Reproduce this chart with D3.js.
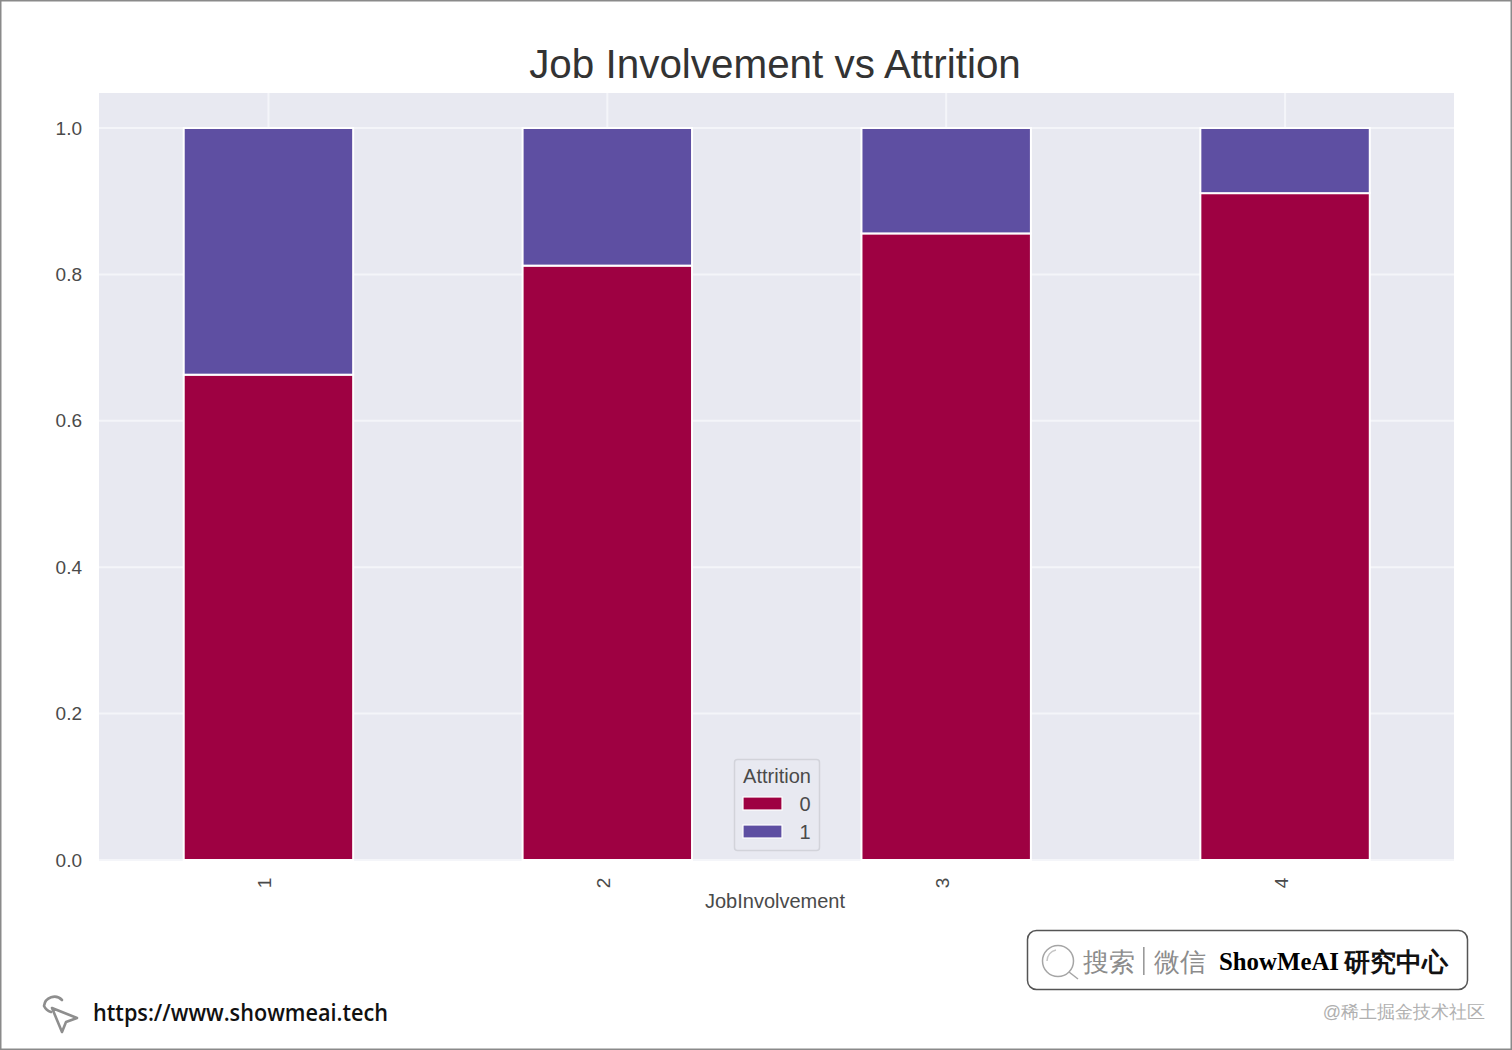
<!DOCTYPE html>
<html>
<head>
<meta charset="utf-8">
<script src="https://d3js.org/d3.v7.min.js"></script>
<style>
html,body{margin:0;padding:0;background:#fff;overflow:hidden}
svg{display:block}
text{font-family:"Liberation Sans",Arial,sans-serif}
</style>
</head>
<body>
<svg id="c" width="1512" height="1050"></svg>
<script>
const categories = ["1","2","3","4"];
const seriesNames = ["0","1"];
const attrition0 = [0.663,0.812,0.856,0.911];
const attrition1 = [0.337,0.188,0.144,0.089];
const yTicks = [0,0.2,0.4,0.6,0.8,1.0];
const seriesColors = ["#9e0142","#5e4fa2"];

const svg = d3.select("#c");
svg.append("rect").attr("x",0.75).attr("y",0.75).attr("width",1510.5).attr("height",1048.5)
  .attr("fill","#fff").attr("stroke","#8a8a8a").attr("stroke-width",1.5);

const L=99,R=1454,T=93,B=860;
const x = d3.scaleBand().domain(categories).range([L,1454.5]).paddingInner(0.5).paddingOuter(0.25);
const y = d3.scaleLinear().domain([0,1]).range([B,128]);

svg.append("rect").attr("x",L).attr("y",T).attr("width",R-L).attr("height",B-T).attr("fill","#e8e9f1");

const grid = svg.append("g");
yTicks.forEach(t=>grid.append("line").attr("x1",L).attr("x2",R).attr("y1",y(t)).attr("y2",y(t))
  .attr("stroke","#f4f5f9").attr("stroke-width",2));
categories.forEach(c=>{const cx=x(c)+x.bandwidth()/2;
  grid.append("line").attr("x1",cx).attr("x2",cx).attr("y1",T).attr("y2",B).attr("stroke","#f4f5f9").attr("stroke-width",2);});

const rows = categories.map((c,i)=>({cat:c,"0":attrition0[i],"1":attrition1[i]}));
const stacked = d3.stack().keys(seriesNames)(rows);
svg.append("g").selectAll("g").data(stacked).join("g").attr("fill",(d,i)=>seriesColors[i])
  .selectAll("rect").data(d=>d).join("rect")
  .attr("x",d=>x(d.data.cat)).attr("width",x.bandwidth())
  .attr("y",d=>y(Math.min(d[1],1))).attr("height",d=>y(d[0])-y(Math.min(d[1],1)))
  .attr("stroke","#fff").attr("stroke-width",2);

// Axes
const yAxis = svg.append("g").attr("transform",`translate(${L},0)`)
  .call(d3.axisLeft(y).tickValues(yTicks).tickFormat(d3.format(".1f")).tickSize(0).tickPadding(17));
yAxis.select(".domain").remove();
yAxis.selectAll("text").attr("font-size",19).attr("fill","#4a4a4a").attr("font-family","'Liberation Sans',Arial,sans-serif");

const xAxis = svg.append("g").attr("transform",`translate(0,${B})`)
  .call(d3.axisBottom(x).tickSize(0).tickFormat(d=>""));
xAxis.select(".domain").remove();
xAxis.selectAll(".tick").append("text")
  .attr("transform","translate(0,23) rotate(-90)")
  .attr("text-anchor","middle")
  .attr("x",0).attr("y",3)
  .attr("font-size",19).attr("fill","#4a4a4a").text(d=>d);

svg.append("text").attr("x",775).attr("y",78).attr("text-anchor","middle")
  .attr("font-size",40.4).attr("fill","#333").text("Job Involvement vs Attrition");
svg.append("text").attr("x",775).attr("y",908).attr("text-anchor","middle")
  .attr("font-size",20).attr("fill","#4a4a4a").text("JobInvolvement");

// Legend
const lg = svg.append("g");
lg.append("rect").attr("x",734.5).attr("y",759.5).attr("width",85).attr("height",91).attr("rx",3)
  .attr("fill","#e8e9f1").attr("stroke","#d2d3da").attr("stroke-width",1.5);
lg.append("text").attr("x",777).attr("y",783).attr("text-anchor","middle").attr("font-size",20).attr("fill","#4a4a4a").text("Attrition");
seriesNames.forEach((s,i)=>{
  const yy=797+i*28;
  lg.append("rect").attr("x",743).attr("y",yy).attr("width",39).attr("height",13)
    .attr("fill",seriesColors[i]).attr("stroke","#fff").attr("stroke-width",1.2);
  lg.append("text").attr("x",805).attr("y",yy+14).attr("text-anchor","middle").attr("font-size",20).attr("fill","#4a4a4a").text(s);
});

// Watermark box
svg.append("rect").attr("x",1027.5).attr("y",930.5).attr("width",440).attr("height",59).attr("rx",9)
  .attr("fill","#fff").attr("stroke","#555").attr("stroke-width",1.5);
svg.append("circle").attr("cx",1058).attr("cy",961).attr("r",15.5).attr("fill","none").attr("stroke","#a5a5a5").attr("stroke-width",1.5);
svg.append("path").attr("d","M1069 972L1078 979").attr("stroke","#a5a5a5").attr("stroke-width",1.5).attr("fill","none");
svg.append("path").attr("d","M1047 961A11 11 0 0 1 1056 950").attr("stroke","#c5c5c5").attr("stroke-width",1.5).attr("fill","none");
const cjk="'Noto Sans CJK SC'";
svg.append("text").attr("x",1083).attr("y",971).attr("font-size",26).attr("fill","#8c8c8c").attr("font-family",cjk).attr("font-weight",300).text("搜索");
svg.append("rect").attr("x",1143).attr("y",947).attr("width",1.6).attr("height",28).attr("fill","#9a9a9a");
svg.append("text").attr("x",1154).attr("y",971).attr("font-size",26).attr("fill","#8c8c8c").attr("font-family",cjk).attr("font-weight",300).text("微信");
svg.append("text").attr("x",1219).attr("y",970).attr("font-size",25.5).attr("font-weight",700).attr("fill","#000")
  .style("font-family","'Liberation Serif',serif").attr("textLength",120).attr("lengthAdjust","spacingAndGlyphs").text("ShowMeAI");
svg.append("text").attr("x",1344).attr("y",971).attr("font-size",26).attr("font-weight",700).attr("fill","#111").attr("font-family",cjk).text("研究中心");
svg.append("text").attr("x",1485).attr("y",1018).attr("text-anchor","end").attr("font-size",18).attr("fill","#b0b0b0").attr("font-family",cjk+",'Noto Sans'").text("@稀土掘金技术社区");

// URL and cursor icon
const ic = svg.append("g").attr("fill","none").attr("stroke","#8e8e8e").attr("stroke-width",2.6).attr("stroke-linejoin","round").attr("stroke-linecap","round");
ic.append("path").attr("d","M51 1012A11.5 11.5 0 0 1 44 1006A10.5 10.5 0 0 1 62 1000");
ic.append("path").attr("d","M52 1008L77 1018L66 1022L62 1032Z");
svg.append("text").attr("x",93).attr("y",1021).attr("font-size",24).attr("font-weight",600).attr("fill","#111")
  .style("font-family","'Open Sans',sans-serif").attr("textLength",295).attr("lengthAdjust","spacingAndGlyphs").text("https://www.showmeai.tech");
</script>
</body>
</html>
